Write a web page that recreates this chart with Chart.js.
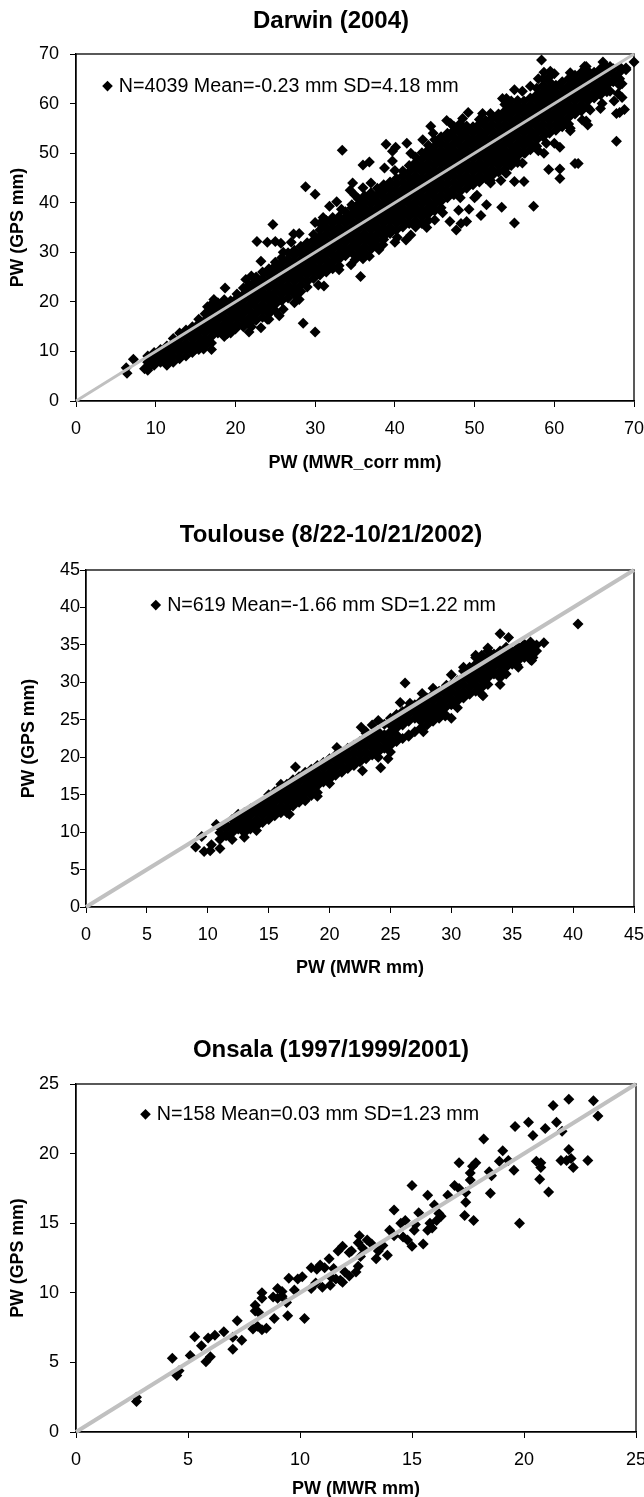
<!DOCTYPE html>
<html>
<head>
<meta charset="utf-8">
<title>PW comparison</title>
<script src="https://cdn.jsdelivr.net/npm/chart.js@4"></script>
<style>
  html, body { margin: 0; padding: 0; background: #fff; overflow: hidden; }
  canvas { position: absolute; left: 0; }
</style>
</head>
<body>
<canvas id="darwin" width="662" height="490" style="top:0"></canvas>
<canvas id="toulouse" width="662" height="490" style="top:510px"></canvas>
<canvas id="onsala" width="662" height="467" style="top:1030px"></canvas>
<script>
// Darwin: dense part of the cloud, one [MWR, [GPS values]] per column
var darwinDense = [
  [9,[6.2,6.5,7.8,9.1]],[9.8,[7.2,8.5,9.8]],[10.6,[7.8,9.1,10.4]],[11.4,[7.2,8.5,9.8,11.1]],
  [12.2,[7.8,9.1,10.4,11.7,12.6]],[13,[8.5,9.8,11.1,12.4,13.7]],[13.8,[9.1,10.4,11.7,13,14.3]],
  [14.6,[9.8,11.1,12.4,13.7,15]],[15.4,[10.4,11.7,13,14.3,15.6,16.5]],[16.2,[11.1,12.4,13.7,15,16.3,17.6]],
  [17,[10.4,11.7,13,14.3,15.6,16.9,18.2,19.5]],[17.8,[13.7,15,16.3,17.6,18.9,19.8]],
  [18.6,[13,14.3,15.6,16.9,18.2,19.5,20.4]],[19.4,[13.7,15,16.3,17.6,18.9,20.2]],[20.2,[15.6,16.9,18.2,19.5,20.8,21.6]],
  [21,[15,16.3,17.6,18.9,20.2,21.5,22.8]],[21.8,[15.6,16.9,18.2,19.5,20.8,22.1,23.4]],
  [22.6,[16.3,17.6,18.9,20.2,21.5,22.8,24.1,25]],[23.4,[16.9,18.2,19.5,20.8,22.1,23.4,24.7,26]],
  [24.2,[17.6,18.9,20.2,21.5,22.8,24.1,25.4,26.7]],[25,[18.2,19.5,20.8,22.1,23.4,24.7,26,27.3,28]],
  [25.8,[20.2,21.5,22.8,24.1,25.4,26.7,28,28.9]],[26.6,[20.8,22.1,23.4,24.7,26,27.3,28.6,29.9]],
  [27.4,[21.5,22.8,24.1,25.4,26.7,28,29.3,30.4]],[28.2,[22.1,23.4,24.7,26,27.3,28.6,29.9,31.2]],
  [29,[24.1,25.4,26.7,28,29.3,30.6,31.9]],[29.8,[24.7,26,27.3,28.6,29.9,31.2,32.5,33.6]],
  [30.6,[25.4,26.7,28,29.3,30.6,31.9,33.2,34.5,35.8]],[31.4,[26,27.3,28.6,29.9,31.2,32.5,33.8,35.1,36.4]],
  [32.2,[26.7,28,29.3,30.6,31.9,33.2,34.5,35.8,37]],[33,[27.3,28.6,29.9,31.2,32.5,33.8,35.1,36.4,37.2]],
  [33.8,[29.3,30.6,31.9,33.2,34.5,35.8,37.1,38.2]],[34.6,[29.9,31.2,32.5,33.8,35.1,36.4,37.7,39,39.6]],
  [35.4,[29.3,30.6,31.9,33.2,34.5,35.8,37.1,38.4,39.7,40.8]],[36.2,[29.9,31.2,32.5,33.8,35.1,36.4,37.7,39,40.3,41.4]],
  [37,[30.6,31.9,33.2,34.5,35.8,37.1,38.4,39.7,41,42]],[37.8,[31.2,32.5,33.8,35.1,36.4,37.7,39,40.3,41.6,42.9]],
  [38.6,[32.6,33.2,34.5,35.8,37.1,38.4,39.7,41,42.3,43.6]],[39.4,[33.8,35.1,36.4,37.7,39,40.3,41.6,42.9,44.2]],
  [40.2,[34.5,35.8,37.1,38.4,39.7,41,42.3,43.6,44.9]],[41,[35.1,36.4,37.7,39,40.3,41.6,42.9,44.2,45.5,46.4]],
  [41.8,[35.8,37.1,38.4,39.7,41,42.3,43.6,44.9,46.2,47.5]],[42.6,[35.1,36.4,37.7,39,40.3,41.6,42.9,44.2,45.5,46.8,48.1,49.2]],
  [43.4,[35.8,37.1,38.4,39.7,41,42.3,43.6,44.9,46.2,47.5,48.8,50.1]],[44.2,[36.4,37.7,39,40.3,41.6,42.9,44.2,45.5,46.8,48.1,49.4,50.7,51.6]],
  [45,[38.4,39.7,41,42.3,43.6,44.9,46.2,47.5,48.8,50.1,51.4,52.7]],[45.8,[39,40.3,41.6,42.9,44.2,45.5,46.8,48.1,49.4,50.7,52,53.3]],
  [46.6,[41,42.3,43.6,44.9,46.2,47.5,48.8,50.1,51.4,52.7,54]],[47.4,[41.6,42.9,44.2,45.5,46.8,48.1,49.4,50.7,52,53.3,54.6,55.4]],
  [48.2,[41,42.3,43.6,44.9,46.2,47.5,48.8,50.1,51.4,52.7,54,55.3,56]],[49,[42.9,44.2,45.5,46.8,48.1,49.4,50.7,52,53.3,54.6,55.5]],
  [49.8,[43.6,44.9,46.2,47.5,48.8,50.1,51.4,52.7,54,55.3]],[50.6,[44.2,45.5,46.8,48.1,49.4,50.7,52,53.3,54.6,55.9,56.8]],
  [51.4,[44.9,46.2,47.5,48.8,50.1,51.4,52.7,54,55.3,56.6]],[52.2,[45.5,46.8,48.1,49.4,50.7,52,53.3,54.6,55.9,57.2]],
  [53,[46.2,47.5,48.8,50.1,51.4,52.7,54,55.3,56.6,57.9]],[53.8,[46.8,48.1,49.4,50.7,52,53.3,54.6,55.9,57.2,58.5,59.8]],
  [54.6,[47.5,48.8,50.1,51.4,52.7,54,55.3,56.6,57.9,59.2,60.5]],[55.4,[48.1,49.4,50.7,52,53.3,54.6,55.9,57.2,58.5,59.8,60.6]],
  [56.2,[50.1,51.4,52.7,54,55.3,56.6,57.9,59.2,60.5]],[57,[50.7,52,53.3,54.6,55.9,57.2,58.5,59.8,61.1]],
  [57.8,[51.4,52.7,54,55.3,56.6,57.9,59.2,60.5,61.8,63.1]],[58.6,[53.3,54.6,55.9,57.2,58.5,59.8,61.1,62.4,63.7,65]],
  [59.4,[54,55.3,56.6,57.9,59.2,60.5,61.8,63.1,64.4,65.4]],[60.2,[54.6,55.9,57.2,58.5,59.8,61.1,62.4,63.7]],
  [61,[55.3,56.6,57.9,59.2,60.5,61.8,63.1,64.4]],[61.8,[55.9,57.2,58.5,59.8,61.1,62.4,63.7,65]],
  [62.6,[57.9,59.2,60.5,61.8,63.1,64.4,65.7]],[63.4,[58.5,59.8,61.1,62.4,63.7,65,66.3]],
  [64.2,[59.2,60.5,61.8,63.1,64.4,65.7,66.6]],[65,[61.1,62.4,63.7,65,66.3]],
  [65.8,[61.8,63.1,64.4,65.7,67]],[66.6,[62.4,63.7,65,66.3,67.4]],[67.4,[64.4,65.7,67]],[68.2,[63.7,65,66.3]]
];
// Darwin: points that stand apart from the cloud, and the bumps along its edges
var darwinOutliers = [
  [6.3,6.7],[6.4,5.6],[7.2,8.4],[8.6,6.5],[18.7,22.8],[22.7,32.2],[23.2,28.2],[24,32],[24.7,35.6],[25,32.2],
  [25.7,31.8],[27.3,33.7],[28,33.8],[28.8,43.2],[30,41.7],[31.8,39.3],[32.7,40.2],[33.3,38.7],[33.4,50.6],[34.7,44],
  [34.4,42.5],[36,47.6],[36.8,48.2],[38.7,47],[38.9,51.8],[39.7,50.4],[40.1,51.2],[39.7,48.4],[28.5,15.7],[30,13.9],
  [23.2,14.8],[21.7,13.9],[24.2,16.5],[25.5,17.2],[19,13.6],[27.4,19.8],[30.4,23.4],[31.1,23.2],[35.7,25.1],[34.5,27.5],
  [36,28.7],[36.8,29.2],[41.4,32.5],[40.3,33],[38.5,31.5],[45,36.5],[46.9,36.2],[47.7,34.5],[48.3,35.8],[49,36.2],
  [49.3,38.7],[50.8,37.4],[50.3,41.5],[51.5,39.6],[53.4,39.1],[55,35.9],[57.4,39.3],[53.3,44.5],[55,44.3],[56.2,44.3],
  [52,44.5],[53.9,46],[54.8,48.7],[56.3,50],[59.3,46.7],[60.7,44.9],[60.7,46.8],[62.6,47.9],[63,47.9],[60.7,51.2],
  [58.7,50],[59,52],[67.8,52.4],[58.4,68.8],[64,67.5],[66.1,68.4],[67,67.5],[68.3,67.3],[69,67.2],[70,68.4],
  [68.5,61.2],[68.8,58.8],[67.8,58],[68.2,58.2],[65.8,59],[64.5,58.7],[63.5,56.7],[64.2,55.7],[62,55],[61,56.5],
  [66,60],[67.5,60.5],[68.5,64],[68,62],[67,62.5],[66.5,64.2],[69,66.8],[44.5,55.4],[44.8,54],[46.5,56.6],
  [48.5,57],[49.2,58.2],[52,58],[53.5,61],[55,62.8],[57,63.5],[58.7,66.3],[59.5,66.5],[62,66.2],[63.8,67.5],
  [41.5,52],[43.5,52.7]
];
var darwinEdges = [
  [16.5,19],[17.3,20.5],[21.3,24.5],[22,25.2],[26,30],[27,32],[30,36],[31,37],[35,41.5],[36,43],
  [37,44],[40,46.5],[42,50],[47,56],[51,58],[54,61],[56,62.5],[58,65],[60,66],
  [15,10.5],[16,10.5],[20,14.5],[22,15],[24,16.5],[26,18.5],[28,20.5],[29,23],[33,26.5],[35,28.5],
  [38,30.5],[40,32],[42,33.5],[44,35],[46,38],[48,38.5],[50,41],[52,44],[54,46],[56,48],[58,50.5],[60,52],[62,54.5],[64,56.5]
];

// Toulouse
var toulouseDense = [
  [11,[9,9.9,10.6]],[11.5,[9.5,10.4,11]],[12,[9.9,10.8,11.7]],[12.5,[10.4,11.3,12.2]],[13,[9.9,10.8,11.7,12.6]],
  [13.5,[10.4,11.3,12.2,13.1]],[14,[10.8,11.7,12.6,13.5]],[14.5,[11.3,12.2,13.1,14]],[15,[11.7,12.6,13.5,14.4,15]],
  [15.5,[12.2,13.1,14,14.9,15.4]],[16,[12.6,13.5,14.4,15.3,16]],[16.5,[12.6,13.1,14,14.9,15.8,16.4]],[17,[13.5,14.4,15.3,16.2,17]],
  [17.5,[14,14.9,15.8,16.7,17.4]],[18,[14.4,15.3,16.2,17.1,18]],[18.5,[14.9,15.8,16.7,17.6,18.4]],[19,[15.3,16.2,17.1,18,18.9]],
  [19.5,[16.7,17.6,18.5,19.3]],[20,[16.5,17.1,18,18.9,19.8]],[20.5,[17.6,18.5,19.4,20.3]],[21,[18,18.9,19.8,20.7]],
  [21.5,[18.5,19.4,20.3,21.2]],[22,[18.9,19.8,20.7,21.6]],[22.5,[19.4,20.3,21.2,22.1]],[23,[19.8,20.7,21.6,22.5,23.4]],
  [23.5,[20.3,21.2,22.1,23]],[24,[20.7,21.6,22.5,23.4]],[24.5,[21.2,22.1,23,24.4]],[25,[20.7,21.6,22.5,23.4,24.3,25.2]],
  [25.5,[22.1,23,23.9,24.8,25.7]],[26,[22.5,24.3,25.2,26.1]],[26.5,[23,24.8,25.7,26.6]],[27,[23.4,25.2,26.1,27]],
  [27.5,[23.9,24.8,25.7,26.6,27.5]],[28,[24.3,25.2,26.1,27,27.9]],[28.5,[24.8,25.7,26.6,27.5,28.4]],[29,[25.2,26.1,27,27.9,28.8]],
  [29.5,[25.7,26.6,27.5,28.4,29.3]],[30,[25.2,27,27.9,28.8,29.7]],[30.5,[26.6,27.5,28.4,29.3,30.2]],[31,[27.9,28.8,29.7,30.6,31.5]],
  [31.5,[28.4,29.3,30.2,31.1,32]],[32,[28.8,29.7,30.6,31.5,32.4,33.3]],[32.5,[28.4,29.3,30.2,31.1,32,32.9,33.6]],
  [33,[29.7,30.6,31.5,32.4,33.3,34.2]],[33.5,[31.1,32,32.9,33.8]],[34,[29.7,30.6,31.5,32.4,33.3,34.2]],[34.5,[31.1,32,32.9,33.8,34.7]],
  [35,[32.4,33.3,34.2]],[35.5,[32,32.9,33.8,34.7]],[36,[33.3,34.2,35.1]],[36.5,[33,33.8,34.7,35.4]],[37,[34.2,35]]
];
var toulouseOutliers = [
  [9,8],[9.5,9.4],[9.7,7.4],[10.2,7.5],[10.3,8.3],[10.7,11],[11,7.8],[17.2,18.7],[20.6,21.3],[24.2,18.6],
  [22.7,18.2],[26.2,29.9],[25.8,27.3],[40.4,37.8],[37.6,35.3],[34,36.5],[34.7,36],[30,31],[28.5,29.2],[27.6,28.5],
  [24,24.9],[22.6,24],[18.9,18.6],[24.8,19.8],[26.6,27.2],[29.6,29.6],[36.7,33.3],[36.6,32.9],[35.4,32.3],
  [13,9.3],[14,10.2],[12,9],[16.7,12.4],[18,14.2],[19,14.8],[24,20],[26.5,22.8],[27.7,23.4],[29.5,25.5],
  [32.6,28.2],[12.5,12.4],[16,16.4],[23,23.2],[23.5,24.3],[31,32],[32,33.6],[33,34.6]
];

// Onsala
var onsalaPoints = [
  [2.7,2.5],[2.7,2.2],[4.3,5.3],[4.5,4.05],[4.6,4.4],[5.1,5.5],[5.3,6.85],[5.6,6.2],[5.8,5.05],[5.9,6.75],
  [6,5.4],[6.2,6.95],[6.6,7.2],[7,6.8],[7,5.95],[7.2,8],[7.4,6.6],[7.9,7.4],[8,9.1],[8,8.7],
  [8.1,7.6],[8.15,8.6],[8.3,9.6],[8.3,10],[8.3,7.35],[8.5,7.45],[8.8,9.7],[8.85,8.15],[9,10.3],[9,9.6],
  [9.2,9.75],[9.2,10.1],[9.4,9.3],[9.45,8.35],[9.5,11.05],[9.75,10.2],[9.9,11],[10.1,11.15],[10.2,8.15],[10.5,10.3],
  [10.5,11.8],[10.7,10.7],[10.75,11.7],[10.9,12],[11,10.4],[11.1,11.8],[11.3,12.45],[11.35,10.55],[11.4,11.1],[11.5,11.75],
  [11.6,11],[11.7,13],[11.8,10.9],[11.9,13.35],[11.9,10.75],[12,11.5],[12.2,12.9],[12.2,11.2],[12.3,13],[12.5,11.5],
  [12.6,11.9],[12.6,13.6],[12.65,14.1],[12.7,12.6],[12.8,13.2],[13,13.8],[13.2,13.5],[13.4,12.45],[13.5,13],[13.7,13.4],
  [13.9,12.7],[14,14.5],[14.2,14.1],[14.2,15.95],[14.5,15],[14.6,14],[14.7,15.2],[14.8,13.8],[15,13.35],[15,17.7],
  [15.1,14.5],[15.15,14.9],[15.3,15.75],[15.5,13.5],[15.7,17],[15.7,14.5],[15.8,15],[15.9,14.65],[16,16.3],[16.1,15.2],
  [16.2,15.7],[16.3,15.5],[16.6,17],[16.9,17.7],[17.1,17.5],[17.1,19.35],[17.4,17.2],[17.4,16.5],[17.35,15.55],[17.6,18.6],
  [17.6,18.1],[17.7,19.1],[17.75,15.2],[17.85,19.35],[18.2,21.05],[18.45,18.7],[18.5,17.15],[18.55,18.4],[18.9,19.45],[19.05,20.2],
  [19.3,19.5],[19.55,18.8],[19.6,21.95],[19.8,15],[20.2,22.25],[20.4,21.3],[20.55,19.45],[20.7,18.15],[20.75,19.35],[20.75,19],
  [20.95,21.8],[21.1,17.25],[21.3,23.45],[21.45,22.25],[21.65,19.5],[21.7,21.6],[21.9,19.5],[22,20.3],[22,23.9],[22.1,19.65],
  [22.2,19],[22.85,19.5],[23.1,23.8],[23.3,22.7]
];

function columnsToPoints(columns, extras) {
  var pts = [];
  columns.forEach(function (col) {
    col[1].forEach(function (y) { pts.push({ x: col[0], y: y }); });
  });
  extras.forEach(function (p) { pts.push({ x: p[0], y: p[1] }); });
  return pts;
}

var FONT = "'Liberation Sans', Arial, sans-serif";
var LEGEND_PAD = 8; // the legend clips at its own box, keep room for the marker

// black frame round the plot, title centred on the canvas, legend moved inside the plot
var framePlugin = {
  id: "frame",
  afterLayout: function (chart) {
    var o = chart.options.plugins.frame;
    chart.legend.left = chart.chartArea.left + o.legendX - LEGEND_PAD;
    chart.legend.top = chart.chartArea.top + o.legendY - LEGEND_PAD;
    chart.titleBlock.left = 0;
    chart.titleBlock.right = chart.width;
  },
  beforeDatasetsDraw: function (chart) {
    var a = chart.chartArea, ctx = chart.ctx;
    ctx.save();
    ctx.strokeStyle = "#000";
    ctx.lineWidth = 1.3;
    ctx.strokeRect(a.left, a.top, a.right - a.left, a.bottom - a.top);
    ctx.restore();
  }
};

function makeChart(id, c) {
  var canvas = document.getElementById(id);
  new Chart(canvas, {
    type: "scatter",
    data: {
      datasets: [
        { label: "1:1", data: [{ x: 0, y: 0 }, { x: c.max, y: c.max }], showLine: true, borderColor: "#c0c0c0",
          borderWidth: c.lineWidth, pointRadius: 0, order: 0, clip: false },
        { label: c.legend, data: c.points, pointStyle: "rectRot", pointRadius: 5.5, backgroundColor: "#000",
          borderColor: "#000", borderWidth: 0, order: 1, clip: false }
      ]
    },
    options: {
      responsive: false,
      animation: false,
      layout: { padding: { left: 0, top: 0, bottom: 0, right: canvas.width - c.right } },
      plugins: {
        frame: { legendX: c.legendX, legendY: c.legendY },
        tooltip: { enabled: false },
        title: {
          display: true, text: c.title, color: "#000",
          font: { family: FONT, size: 24, weight: "bold" },
          padding: { top: c.titleTop, bottom: c.titleBottom }
        },
        legend: {
          position: "chartArea", align: "start",
          labels: {
            usePointStyle: true, boxHeight: 7.5, boxWidth: 3, padding: LEGEND_PAD, color: "#000",
            font: { family: FONT, size: 19.7 },
            filter: function (item) { return item.text !== "1:1"; }
          }
        }
      },
      scales: {
        x: {
          type: "linear", min: 0, max: c.max,
          afterFit: function (s) { s.height = canvas.height - c.bottom; },
          border: { color: "#000", width: 1.3 },
          grid: { drawOnChartArea: false, tickLength: 6, color: "#000" },
          ticks: { stepSize: c.step, padding: 11, color: "#000", maxRotation: 0, font: { family: FONT, size: 18 } },
          title: { display: true, text: c.xTitle, color: "#000", font: { family: FONT, size: 18, weight: "bold" },
            padding: { top: 0, bottom: c.xTitleBottom } }
        },
        y: {
          min: 0, max: c.max,
          afterFit: function (s) { s.width = c.left; },
          border: { color: "#000", width: 1.3 },
          grid: { drawOnChartArea: false, tickLength: 6, color: "#000" },
          ticks: { stepSize: c.step, padding: c.yTickPad, color: "#000", font: { family: FONT, size: 18 } },
          title: { display: true, text: "PW (GPS mm)", color: "#000", font: { family: FONT, size: 17.8, weight: "bold" },
            padding: { top: c.yTitleLeft, bottom: 0 } }
        }
      }
    },
    plugins: [framePlugin]
  });
}

makeChart("darwin", {
  title: "Darwin (2004)", xTitle: "PW (MWR_corr mm)", legend: "N=4039 Mean=-0.23 mm SD=4.18 mm",
  points: columnsToPoints(darwinDense, darwinOutliers.concat(darwinEdges)), max: 70, step: 10, lineWidth: 3,
  left: 76, right: 634, bottom: 401, titleTop: 6.6, titleBottom: 18.6, xTitleBottom: 16.2, yTitleLeft: 7.8, yTickPad: 11,
  legendX: 30, legendY: 22.25
});
makeChart("toulouse", {
  title: "Toulouse (8/22-10/21/2002)", xTitle: "PW (MWR mm)", legend: "N=619 Mean=-1.66 mm SD=1.22 mm",
  points: columnsToPoints(toulouseDense, toulouseOutliers), max: 45, step: 5, lineWidth: 4,
  left: 86, right: 634, bottom: 397, titleTop: 10.6, titleBottom: 20.6, xTitleBottom: 21.2, yTitleLeft: 18, yTickPad: 0,
  legendX: 68.3, legendY: 25.25
});
makeChart("onsala", {
  title: "Onsala (1997/1999/2001)", xTitle: "PW (MWR mm)", legend: "N=158 Mean=0.03 mm SD=1.23 mm",
  points: columnsToPoints([], onsalaPoints), max: 25, step: 5, lineWidth: 4,
  left: 76, right: 636, bottom: 402, titleTop: 5.6, titleBottom: 19.6, xTitleBottom: -2.8, yTitleLeft: 7.8, yTickPad: 11,
  legendX: 68, legendY: 20.5
});
</script>
</body>
</html>
